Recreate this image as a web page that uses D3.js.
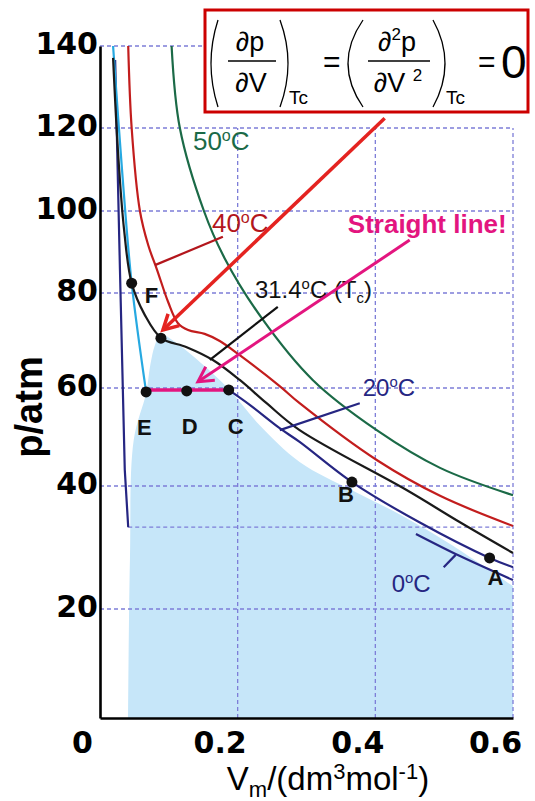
<!DOCTYPE html>
<html>
<head>
<meta charset="utf-8">
<script src="https://cdn.jsdelivr.net/npm/d3@7"></script>
<style>
  body { margin: 0; background: #fff; }
  svg { display: block; }
</style>
</head>
<body>
<div id="chart"></div>
<script>
// CO2 isotherms, V in dm3/mol, p in atm
const pTicks = [20, 40, 60, 80, 100, 120, 140];
const vTicks = [0, 0.2, 0.4, 0.6];

const iso50V = [0.104, 0.116, 0.151, 0.181, 0.235, 0.309, 0.402, 0.494, 0.600];
const iso50P = [140, 120, 100, 88.5, 74.7, 61.7, 51.4, 43.7, 38.5];

const iso40V = [0.041, 0.046, 0.058, 0.070, 0.083, 0.099, 0.113, 0.128, 0.152, 0.174, 0.203, 0.261, 0.290, 0.402, 0.494, 0.600];
const iso40P = [140, 120, 100, 91.7, 85.6, 78.1, 73.7, 72.2, 71.4, 69.9, 66.9, 60.4, 56.9, 45.3, 38.4, 33.5];

const isoTcV = [0.019, 0.026, 0.035, 0.046, 0.065, 0.089, 0.126, 0.164, 0.203, 0.242, 0.290, 0.446, 0.523, 0.600];
const isoTcP = [137.1, 114.7, 95.4, 82.4, 75.4, 70.5, 68.6, 65.9, 61.7, 56.9, 51.4, 39.3, 34.1, 29.1];

// 20 C: liquid branch (E -> F -> top) and gas branch (C -> B -> A)
const liq20V = [0.019, 0.032, 0.046, 0.067];
const liq20P = [140, 109.9, 82.4, 59.2];
const gas20V = [0.187, 0.218, 0.261, 0.290, 0.366, 0.464, 0.566, 0.600];
const gas20P = [59.6, 56.5, 51.8, 49.0, 40.8, 34.1, 28.3, 26.8];
const tie20V = [0.067, 0.187];
const tie20P = 59.6;

// 0 C
const liq0V = [0.022, 0.029, 0.036, 0.041];
const liq0P = [136.6, 85.6, 43.3, 33.3];
const gas0V = [0.459, 0.523, 0.600];
const gas0P = [32.2, 28.6, 24.7];
const tie0P = 33.3;

// two-phase region
const domeV = [0.041, 0.0435, 0.049, 0.067, 0.073, 0.080, 0.0885, 0.105, 0.145, 0.187, 0.232, 0.290, 0.366, 0.435, 0.508, 0.600];
const domeP = [0, 28.0, 49.4, 59.0, 64.8, 69.1, 71.4, 70.1, 65.5, 59.8, 52.4, 44.9, 39.3, 35.4, 30.6, 23.7];

// labelled states
const pointNames = ["A", "B", "C", "D", "E", "F"];
const pointV = [0.566, 0.366, 0.187, 0.126, 0.067, 0.046];
const pointP = [28.3, 40.8, 59.6, 59.4, 59.2, 82.4];
const critV = 0.0885;
const critP = 70.5;

const width = 535;
const height = 801;

const x = d3.scaleLinear().domain([0, 0.6]).range([100, 513]);
// the figure's pressure axis is not evenly spaced
const y = d3.scaleLinear()
  .domain([0].concat(pTicks))
  .range([718, 609, 486, 388, 293, 211, 128, 46]);

const zip = (V, P) => V.map((v, i) => [v, P[i]]);
const smooth = d3.curveCatmullRom.alpha(0.5);
const lineGen = (curve) => d3.line()
  .x((d) => x(d[0]))
  .y((d) => y(d[1]))
  .curve(curve);
const line = lineGen(smooth);

const svg = d3.select("#chart")
  .append("svg")
  .attr("width", width)
  .attr("height", height)
  .attr("viewBox", [0, 0, width, height])
  .style("font-family", "'Liberation Sans', Arial, sans-serif");

// shaded two-phase region
svg.append("path")
  .attr("d", line(zip(domeV, domeP)) + `L${x(0.6)},${y(0)}Z`)
  .attr("fill", "#c6e6f9");

// grid
const grid = svg.append("g")
  .attr("stroke", "#7d7dd8")
  .attr("stroke-width", 1.3)
  .attr("stroke-dasharray", "4,3");
grid.selectAll(".h")
  .data(pTicks)
  .join("line")
  .attr("x1", x(0)).attr("x2", x(0.6))
  .attr("y1", (d) => y(d)).attr("y2", (d) => y(d));
grid.selectAll(".v")
  .data(vTicks.slice(1))
  .join("line")
  .attr("x1", (d) => x(d)).attr("x2", (d) => x(d))
  .attr("y1", y(0)).attr("y2", y(120));
// 0 C tie line, drawn dashed in the figure
grid.append("line")
  .attr("x1", x(liq0V[liq0V.length - 1])).attr("x2", x(0.6))
  .attr("y1", y(tie0P)).attr("y2", y(tie0P));

// axes
const yAxis = d3.axisLeft(y).tickValues(pTicks).tickSize(0).tickSizeOuter(0).tickPadding(2);
const xAxis = d3.axisBottom(x).tickValues(vTicks).tickSize(0).tickSizeOuter(0).tickPadding(14)
  .tickFormat((d) => (d === 0 ? "0" : d.toFixed(1)));

svg.append("g")
  .attr("transform", `translate(${x(0)},0)`)
  .call(yAxis)
  .call((g) => g.select(".domain").attr("stroke", "#000").attr("stroke-width", 2.6))
  .call((g) => g.selectAll(".tick text")
    .attr("font-family", "'DejaVu Sans', sans-serif")
    .attr("font-weight", "bold")
    .attr("font-size", 30)
    .attr("fill", "#000")
    .attr("y", -2));

svg.append("g")
  .attr("transform", `translate(0,${y(0)})`)
  .call(xAxis)
  .call((g) => g.select(".domain").attr("stroke", "#000").attr("stroke-width", 2.6))
  .call((g) => g.selectAll(".tick text")
    .attr("font-family", "'DejaVu Sans', sans-serif")
    .attr("font-weight", "bold")
    .attr("font-size", 30)
    .attr("fill", "#000")
    .attr("dx", -18));

// axis titles
svg.append("text")
  .attr("transform", `translate(42,407)rotate(-90)`)
  .attr("text-anchor", "middle")
  .attr("font-weight", "bold")
  .attr("font-size", 38)
  .text("p/atm");

const xTitle = svg.append("text")
  .attr("x", 328)
  .attr("y", 790)
  .attr("text-anchor", "middle")
  .attr("font-size", 33);
xTitle.append("tspan").text("V");
xTitle.append("tspan").attr("font-size", 22).attr("dy", 7).text("m");
xTitle.append("tspan").attr("dy", -7).text("/(dm");
xTitle.append("tspan").attr("font-size", 22).attr("dy", -11).text("3");
xTitle.append("tspan").attr("dy", 11).text("mol");
xTitle.append("tspan").attr("font-size", 22).attr("dy", -11).text("-1");
xTitle.append("tspan").attr("dy", 11).text(")");

// isotherms
const curves = [
  { pts: zip(iso50V, iso50P), color: "#1b6a47", gen: line },
  { pts: zip(iso40V, iso40P), color: "#c21d1d", gen: line },
  { pts: zip(liq0V, liq0P), color: "#262682", gen: lineGen(d3.curveLinear) },
  { pts: zip(gas0V, gas0P), color: "#262682", gen: line },
  { pts: zip(gas20V, gas20P), color: "#262682", gen: line },
  { pts: zip(liq20V, liq20P), color: "#27a9e1", gen: line },
  { pts: zip(isoTcV, isoTcP), color: "#1a1a1a", gen: line },
];
svg.append("g")
  .attr("fill", "none")
  .attr("stroke-width", 2.2)
  .selectAll("path")
  .data(curves)
  .join("path")
  .attr("stroke", (d) => d.color)
  .attr("d", (d) => d.gen(d.pts));

// straight tie line at 20 C
svg.append("line")
  .attr("x1", x(tie20V[0])).attr("x2", x(tie20V[1]))
  .attr("y1", y(tie20P)).attr("y2", y(tie20P))
  .attr("stroke", "#e3157f")
  .attr("stroke-width", 3.5);

// label pointers
const pointers = [
  { from: [0.0798, 86.8], to: [0.1785, 93.7], color: "#b3161c" },
  { from: [0.1597, 65.9], to: [0.2583, 77.1], color: "#111" },
  { from: [0.2612, 51.4], to: [0.3774, 56.9], color: "#262682" },
  { from: [0.4993, 26.8], to: [0.5167, 28.8], color: "#262682" },
];
svg.append("g")
  .attr("stroke-width", 2.2)
  .selectAll("line")
  .data(pointers)
  .join("line")
  .attr("x1", (d) => x(d.from[0])).attr("y1", (d) => y(d.from[1]))
  .attr("x2", (d) => x(d.to[0])).attr("y2", (d) => y(d.to[1]))
  .attr("stroke", (d) => d.color);

// state points
const points = pointNames.map((n, i) => ({ name: n, v: pointV[i], p: pointP[i] }));
svg.append("g")
  .selectAll("circle")
  .data(points.concat([{ name: "", v: critV, p: critP }]))
  .join("circle")
  .attr("cx", (d) => x(d.v))
  .attr("cy", (d) => y(d.p))
  .attr("r", 5.5)
  .attr("fill", "#111");

const labelOffset = { A: [-2, 27], B: [-14, 20], C: [-1, 44], D: [-5, 43], E: [-9, 43], F: [13, 20] };
svg.append("g")
  .attr("font-size", 22)
  .attr("font-weight", "bold")
  .attr("fill", "#111")
  .selectAll("text")
  .data(points)
  .join("text")
  .attr("x", (d) => x(d.v) + labelOffset[d.name][0])
  .attr("y", (d) => y(d.p) + labelOffset[d.name][1])
  .text((d) => d.name);

// isotherm labels
function tempLabel(v, p, color, size, parts) {
  const t = svg.append("text")
    .attr("x", x(v))
    .attr("y", y(p))
    .attr("fill", color)
    .attr("font-size", size);
  let shift = 0;
  parts.forEach((s) => {
    const off = s.sup ? -9 : s.sub ? 5 : 0;
    t.append("tspan")
      .attr("dy", off - shift)
      .attr("font-size", s.sup || s.sub ? size * 0.62 : size)
      .text(s.t);
    shift = off;
  });
}
tempLabel(0.135, 114.7, "#1b6a47", 26, [{ t: "50" }, { t: "o", sup: true }, { t: "C" }]);
tempLabel(0.1626, 94.9, "#b3161c", 26, [{ t: "40" }, { t: "o", sup: true }, { t: "C" }]);
tempLabel(0.225, 78.9, "#111", 24, [{ t: "31.4" }, { t: "o", sup: true }, { t: "C (T" }, { t: "c", sub: true }, { t: ")" }]);
tempLabel(0.3817, 58.4, "#262682", 24, [{ t: "20" }, { t: "o", sup: true }, { t: "C" }]);
tempLabel(0.4238, 22.8, "#262682", 24, [{ t: "0" }, { t: "o", sup: true }, { t: "C" }]);

svg.append("text")
  .attr("x", x(0.36))
  .attr("y", y(94.6))
  .attr("fill", "#e3157f")
  .attr("font-size", 26)
  .attr("font-weight", "bold")
  .text("Straight line!");

// arrows
function arrow(from, to, color, w) {
  const x1 = x(from[0]), y1 = y(from[1]), x2 = x(to[0]), y2 = y(to[1]);
  const a = Math.atan2(y2 - y1, x2 - x1);
  const wing = (s) => [x2 - 17 * Math.cos(a + s), y2 - 17 * Math.sin(a + s)];
  const g = svg.append("g")
    .attr("stroke", color)
    .attr("stroke-width", w)
    .attr("fill", "none");
  g.append("line").attr("x1", x1).attr("y1", y1).attr("x2", x2).attr("y2", y2);
  g.append("path").attr("d", `M${wing(0.5)}L${x2},${y2}L${wing(-0.5)}`);
}
arrow([0.4136, 122.4], [0.0914, 72.2], "#e42320", 3.5);
arrow([0.4499, 92.9], [0.1422, 61.3], "#e3157f", 3);

// critical point condition
const box = svg.append("g").attr("fill", "#000");
box.append("rect")
  .attr("x", 205).attr("y", 10)
  .attr("width", 323).attr("height", 102)
  .attr("fill", "#fff")
  .attr("stroke", "#cc0000")
  .attr("stroke-width", 3);

const paren = (x0, xm) => `M${x0},20Q${2 * xm - x0},63.5 ${x0},107`;
box.append("g")
  .attr("fill", "none")
  .attr("stroke", "#000")
  .attr("stroke-width", 1.3)
  .selectAll("path")
  .data([[218, 211], [280, 288], [363, 348], [433, 445]])
  .join("path")
  .attr("d", (d) => paren(d[0], d[1]));
box.append("g")
  .attr("stroke", "#000")
  .attr("stroke-width", 1.6)
  .selectAll("line")
  .data([[228, 276], [368, 430]])
  .join("line")
  .attr("x1", (d) => d[0]).attr("x2", (d) => d[1])
  .attr("y1", 61).attr("y2", 61);

box.append("text").attr("x", 250).attr("y", 51).attr("text-anchor", "middle").attr("font-size", 27).text("∂p");
box.append("text").attr("x", 251).attr("y", 92).attr("text-anchor", "middle").attr("font-size", 27).text("∂V");
box.append("text").attr("x", 289).attr("y", 104).attr("font-size", 19).text("Tc");
box.append("text").attr("x", 323).attr("y", 72).attr("font-size", 30).text("=");

const num2 = box.append("text").attr("x", 397).attr("y", 51).attr("text-anchor", "middle").attr("font-size", 27);
num2.append("tspan").text("∂");
num2.append("tspan").attr("font-size", 17).attr("dy", -11).text("2");
num2.append("tspan").attr("dy", 11).text("p");
const den2 = box.append("text").attr("x", 398).attr("y", 92).attr("text-anchor", "middle").attr("font-size", 27);
den2.append("tspan").text("∂V ");
den2.append("tspan").attr("font-size", 17).attr("dy", -11).text("2");

box.append("text").attr("x", 446).attr("y", 104).attr("font-size", 19).text("Tc");
box.append("text").attr("x", 478).attr("y", 72).attr("font-size", 30).text("=");
box.append("text").attr("x", 501).attr("y", 78).attr("font-size", 46).text("0");
</script>
</body>
</html>
